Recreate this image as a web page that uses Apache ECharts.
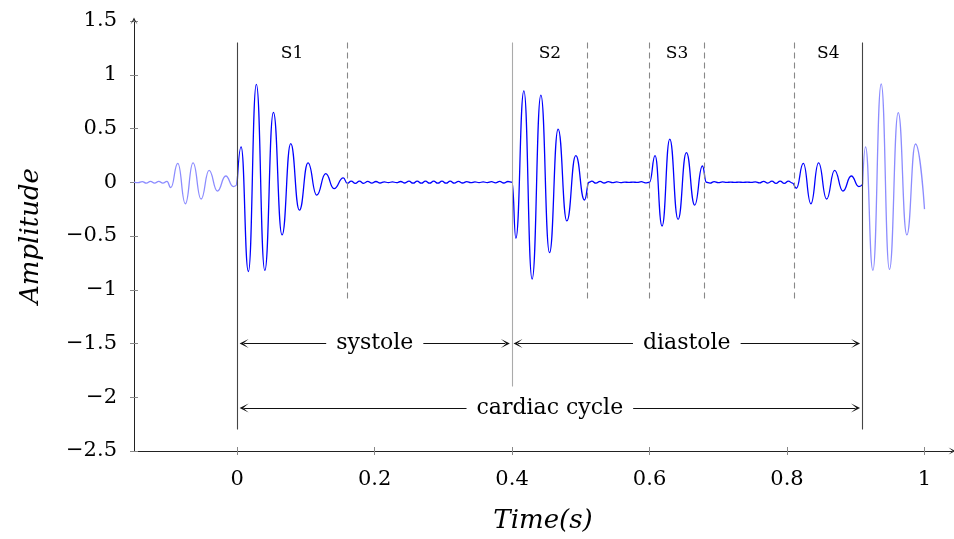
<!DOCTYPE html>
<html>
<head>
<meta charset="utf-8">
<script src="https://cdn.jsdelivr.net/npm/echarts@6/dist/echarts.min.js"></script>
<style>html,body{margin:0;padding:0;background:#fff}#c{width:954px;height:539px}</style>
</head>
<body>
<div id="c"></div>
<script>
// ---- data ----
// main heart-sound trace (one cardiac cycle, 0 .. 0.91 s)
const timeMain = [
  0, 0.0058, 0.0164, 0.028, 0.0403, 0.0528, 0.0654, 0.078, 0.0906, 0.1032, 0.1158, 0.1289, 0.141, 0.1545, 0.1603,
  0.166, 0.172, 0.178, 0.184, 0.19, 0.196, 0.202, 0.208, 0.214, 0.22, 0.226, 0.232, 0.238, 0.244, 0.25, 0.256,
  0.262, 0.268, 0.274, 0.28, 0.286, 0.292, 0.298, 0.304, 0.31, 0.316, 0.322, 0.328, 0.334, 0.34, 0.346, 0.352,
  0.358, 0.364, 0.37, 0.376, 0.382, 0.388, 0.394, 0.4,
  0.4055, 0.4172, 0.4292, 0.4419, 0.4545, 0.467, 0.4797, 0.4927, 0.5054, 0.512,
  0.516, 0.522, 0.528, 0.534, 0.54, 0.546, 0.552, 0.558, 0.564, 0.57, 0.576, 0.582, 0.588, 0.594, 0.6,
  0.608, 0.6182, 0.6294, 0.6415, 0.6536, 0.6657, 0.6769, 0.6827,
  0.688, 0.694, 0.7, 0.706, 0.712, 0.718, 0.724, 0.73, 0.736, 0.742, 0.748, 0.754, 0.76, 0.766, 0.772, 0.778,
  0.784, 0.79, 0.796, 0.802, 0.808,
  0.8135, 0.8237, 0.8347, 0.8459, 0.8576, 0.8692, 0.8813, 0.8935, 0.9045, 0.91
];
const ampMain = [
  -0.02, 0.33, -0.83, 0.91, -0.82, 0.65, -0.49, 0.36, -0.26, 0.18, -0.12, 0.08, -0.06, 0.04, -0.01,
  0.01, -0.01, 0.01, -0.01, 0.008, -0.008, 0.007, -0.007, 0.004, -0.004, 0.004, -0.004, 0.007, -0.007, 0.01, -0.009,
  0.01, -0.009, 0.01, -0.009, 0.01, -0.009, 0.01, -0.009, 0.01, -0.009, 0.008, -0.007, 0.005, -0.004, 0.003, -0.003,
  0.003, -0.003, 0.005, -0.005, 0.008, -0.007, 0.007, 0,
  -0.52, 0.85, -0.9, 0.81, -0.655, 0.495, -0.36, 0.247, -0.165, 0,
  0.01, -0.009, 0.009, -0.007, 0.005, -0.004, 0.003, -0.003, 0.002, -0.002, 0.002, -0.002, 0.005, -0.005, 0,
  0.247, -0.407, 0.402, -0.345, 0.275, -0.212, 0.151, 0,
  -0.008, 0.006, -0.004, 0.003, -0.002, 0.002, -0.002, 0.002, -0.002, 0.002, -0.002, 0.004, -0.006, 0.008, -0.008, 0.01,
  -0.01, 0.01, -0.01, 0.01, -0.008,
  -0.056, 0.176, -0.2, 0.18, -0.156, 0.11, -0.082, 0.058, -0.04, -0.02
];
// faded tail of the previous cycle (before 0 s)
const timeBefore = [-0.15, -0.144, -0.138, -0.132, -0.126, -0.12, -0.114, -0.108, -0.102, -0.0965,
  -0.0863, -0.0753, -0.0641, -0.0524, -0.0408, -0.0287, -0.0165, -0.0055, 0];
const ampBefore = [0.002, -0.004, 0.006, -0.008, 0.008, -0.009, 0.009, -0.009, 0.008, -0.05,
  0.176, -0.2, 0.18, -0.156, 0.11, -0.082, 0.058, -0.04, -0.02];
// faded start of the next cycle (after 0.91 s)
const timeAfter = [0.91, 0.9142, 0.9249, 0.937, 0.949, 0.9618, 0.9743, 0.9869, 1.0];
const ampAfter = [-0.02, 0.33, -0.82, 0.914, -0.81, 0.647, -0.49, 0.356, -0.25];

// phase markers
const solidMarkers = [0, 0.91];
const lightMarker = [0.4];
const dashedMarkers = [0.16, 0.51, 0.6, 0.68, 0.81];
const markerTop = 1.3;
const solidBottom = -2.3;
const lightBottom = -1.9;
const dashedBottom = -1.1;

// sound labels
const soundNames = ['S1', 'S2', 'S3', 'S4'];
const soundX = [0.08, 0.455, 0.64, 0.86];
const soundY = 1.2;

// interval arrows
const arrowNames = ['systole', 'diastole', 'cardiac cycle'];
const arrowStart = [0.0102, 0.4087, 0.0102];
const arrowEnd = [0.3903, 0.8997, 0.8997];
const arrowY = [-1.5, -1.5, -2.1];

const xTicks = [0, 0.2, 0.4, 0.6, 0.8, 1];

// ---- chart ----
const zip = (a, b) => a.map((v, i) => [v, b[i]]);
const serif = 'DejaVu Serif';
const chevron = 'path://M0,10 L5,0 L10,10 L5,4 Z';

function vlines(xs, bottom) {
  return xs.map(x => [{ coord: [x, markerTop] }, { coord: [x, bottom] }]);
}

const chart = echarts.init(document.getElementById('c'), null, { renderer: 'canvas' });
const axisCommonX = { type: 'value', min: -0.15, max: 1.04, splitLine: { show: false } };
const axisCommonY = { type: 'value', min: -2.5, max: 1.5, interval: 0.5, splitLine: { show: false } };

const waveStyle = { smooth: 0.5, smoothMonotone: 'x', showSymbol: false, symbol: 'none' };

chart.setOption({
  animation: false,
  backgroundColor: '#fff',
  grid: { left: 134, right: 2, top: 21, bottom: 88, containLabel: false, outerBoundsMode: 'none' },
  xAxis: [
    Object.assign({}, axisCommonX, {
      position: 'bottom',
      name: 'Time(s)', nameLocation: 'middle', nameGap: 57,
      nameTextStyle: { fontFamily: serif, fontStyle: 'italic', fontSize: 26, color: '#000' },
      axisLine: { show: true, onZero: false, lineStyle: { color: '#222', width: 1 }, symbol: ['none', chevron], symbolSize: [7, 8] },
      axisTick: { show: true, inside: false, length: 4, customValues: xTicks, lineStyle: { color: '#888' } },
      axisLabel: { show: true, customValues: xTicks, margin: 18, fontFamily: serif, fontSize: 21, color: '#000',
        formatter: v => String(v) }
    }),
    Object.assign({}, axisCommonX, {
      position: 'bottom', offset: 0,
      axisLine: { show: false, onZero: false },
      axisTick: { show: true, inside: true, length: 4, customValues: xTicks, lineStyle: { color: '#888' } },
      axisLabel: { show: false }
    })
  ],
  yAxis: [
    Object.assign({}, axisCommonY, {
      position: 'left',
      name: 'Amplitude', nameLocation: 'middle', nameGap: 90,
      nameTextStyle: { fontFamily: serif, fontStyle: 'italic', fontSize: 26, color: '#000' },
      axisLine: { show: true, onZero: false, lineStyle: { color: '#222', width: 1 }, symbol: ['none', chevron], symbolSize: [7, 8] },
      axisTick: { show: true, inside: false, length: 4, lineStyle: { color: '#888' } },
      axisLabel: { show: true, margin: 17, fontFamily: serif, fontSize: 21, color: '#000',
        formatter: v => String(v).replace('-', '\u2212') }
    }),
    Object.assign({}, axisCommonY, {
      position: 'left', offset: 0,
      axisLine: { show: false, onZero: false },
      axisTick: { show: true, inside: true, length: 4, lineStyle: { color: '#888' } },
      axisLabel: { show: false }
    })
  ],
  series: [
    {
      type: 'line', data: [], silent: true, z: 1,
      markLine: { silent: true, symbol: ['none', 'none'], label: { show: false },
        lineStyle: { color: '#444', width: 1.1, type: 'solid' },
        data: vlines(solidMarkers, solidBottom) }
    },
    {
      type: 'line', data: [], silent: true, z: 1,
      markLine: { silent: true, symbol: ['none', 'none'], label: { show: false },
        lineStyle: { color: '#aaa', width: 1.1, type: 'solid' },
        data: vlines(lightMarker, lightBottom) }
    },
    {
      type: 'line', data: [], silent: true, z: 1,
      markLine: { silent: true, symbol: ['none', 'none'], label: { show: false },
        lineStyle: { color: '#888', width: 1.1, type: [6, 4] },
        data: vlines(dashedMarkers, dashedBottom) }
    },
    {
      type: 'line', data: [], silent: true, z: 2,
      markLine: { silent: true, symbol: [chevron, chevron], symbolSize: 9, label: { show: false },
        lineStyle: { color: '#111', width: 1, type: 'solid' },
        data: arrowNames.map((n, i) => [{ coord: [arrowStart[i], arrowY[i]] }, { coord: [arrowEnd[i], arrowY[i]] }]) }
    },
    Object.assign({ type: 'line', data: zip(timeBefore, ampBefore), lineStyle: { color: '#8c8cff', width: 1.3 }, z: 3 }, waveStyle),
    Object.assign({ type: 'line', data: zip(timeAfter, ampAfter), lineStyle: { color: '#8c8cff', width: 1.3 }, z: 3 }, waveStyle),
    Object.assign({ type: 'line', data: zip(timeMain, ampMain), lineStyle: { color: '#0000ff', width: 1.3 }, z: 4 }, waveStyle),
    {
      type: 'scatter', symbolSize: 0, z: 5, silent: true, itemStyle: { opacity: 1 },
      data: soundNames.map((n, i) => ({ value: [soundX[i], soundY], name: n })),
      label: { show: true, position: 'inside', formatter: p => p.name, fontFamily: serif, fontSize: 17, color: '#000' }
    },
    {
      type: 'scatter', symbolSize: 0, z: 6, silent: true, itemStyle: { opacity: 1 },
      data: arrowNames.map((n, i) => ({ value: [(arrowStart[i] + arrowEnd[i]) / 2, arrowY[i]], name: n })),
      label: { show: true, position: 'inside', formatter: p => p.name, fontFamily: serif, fontSize: 22, color: '#000',
        backgroundColor: '#fff', padding: [2, 10] }
    }
  ]
});
</script>
</body>
</html>
